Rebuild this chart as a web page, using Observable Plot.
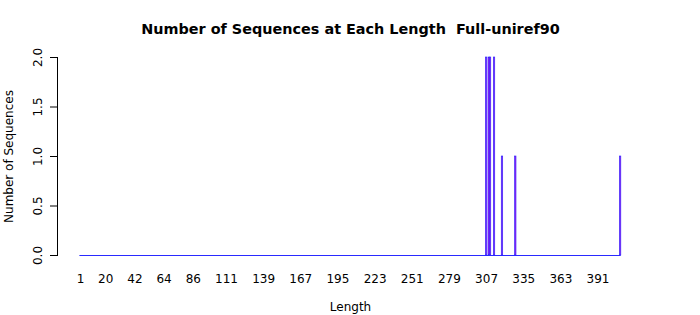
<!DOCTYPE html>
<html>
<head>
<meta charset="utf-8">
<script src="https://cdn.jsdelivr.net/npm/d3@7"></script>
<script src="https://cdn.jsdelivr.net/npm/@observablehq/plot@0.6"></script>
<style>
  html, body { margin: 0; padding: 0; background: #fff; }
  svg { display: block; }
</style>
</head>
<body>
<div id="chart"></div>
<script>
// Data
const lengths = [307, 309, 310, 313, 319, 329, 408];
const counts  = [2, 2, 2, 2, 1, 1, 1];
const lengthRange = [1, 408];
const xTickLabels = [1, 20, 42, 64, 86, 111, 139, 167, 195, 223, 251, 279, 307, 335, 363, 391];
const yTicks = [0, 0.5, 1, 1.5, 2];
const title = "Number of Sequences at Each Length  Full-uniref90";
const xLabel = "Length";
const yLabel = "Number of Sequences";

const bars = lengths.map((L, i) => ({L, n: counts[i]}));
const font = "DejaVu Sans, sans-serif";

const W = 700, H = 315;
const mL = 57, mR = 57, mT = 57, mB = 60;
// pixel scale: ~1.327 px per length unit; L=1 sits 23px right of the axis
const k = 1.327;
const x0 = lengthRange[0] - 23 / k;
const x1 = x0 + (W - mL - mR) / k;

const chart = Plot.plot({
  width: W,
  height: H,
  marginLeft: mL,
  marginRight: mR,
  marginTop: mT,
  marginBottom: mB,
  style: {fontFamily: font, fontSize: "12px", color: "#000", background: "#fff", overflow: "visible"},
  x: {type: "linear", domain: [x0, x1], axis: null},
  y: {domain: [0, 2], axis: null},
  marks: [
    // zero-height bars along the baseline
    Plot.ruleY([{y: 0, a: lengthRange[0] - 0.45, b: lengthRange[1] + 0.45}], {y: "y", x1: "a", x2: "b", stroke: "#2a2aff", strokeWidth: 1}),
    Plot.rectY(bars, {x1: d => d.L - 0.55, x2: d => d.L + 0.55, y1: 0, y2: "n", fill: "#A020F0", stroke: "#2222ff", strokeWidth: 0.6}),
    // y axis
    Plot.frame({anchor: "left", stroke: "#000", strokeWidth: 1}),
    Plot.ruleY(yTicks, {y: d => d, x1: x0 - 7 / k, x2: x0, stroke: "#000", strokeWidth: 1, clip: false}),
    Plot.text(yTicks, {y: d => d, text: d => d3.format(".1f")(d), frameAnchor: "left", dx: -19, rotate: -90, textAnchor: "middle", fill: "#000", fontSize: 12}),
    // x tick labels
    Plot.text(xTickLabels, {x: d => d, text: d => String(d), frameAnchor: "bottom", dy: 24, lineAnchor: "middle", fill: "#000", fontSize: 12}),
    // titles
    Plot.text([title], {text: d => d, frameAnchor: "top", dy: -28, lineAnchor: "middle", fontWeight: "bold", fontSize: 14.4, fill: "#000"}),
    Plot.text([xLabel], {text: d => d, frameAnchor: "bottom", dy: 52, lineAnchor: "middle", fill: "#000", fontSize: 12}),
    Plot.text([yLabel], {text: d => d, frameAnchor: "left", dx: -48, rotate: -90, textAnchor: "middle", fill: "#000", fontSize: 12})
  ]
});
document.getElementById("chart").appendChild(chart);
</script>
</body>
</html>
